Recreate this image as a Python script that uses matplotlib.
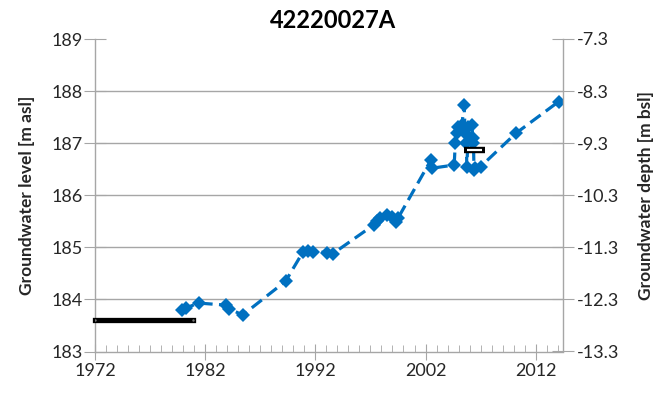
import matplotlib.pyplot as plt
from matplotlib.ticker import FixedLocator, MultipleLocator, FormatStrFormatter

plt.rcParams['font.family'] = ['Lato', 'DejaVu Sans']
plt.rcParams['axes.unicode_minus'] = False

# groundwater level measurements (decimal year, m asl)
years = [1979.9, 1980.3, 1981.4, 1983.9, 1984.2, 1985.4, 1989.3, 1990.9, 1991.3,
         1991.8, 1993.1, 1993.6, 1997.3, 1997.6, 1997.9, 1998.5, 1999.0, 1999.3,
         1999.5, 2002.5, 2002.6, 2004.6, 2004.7, 2004.9, 2004.95, 2005.3, 2005.5,
         2005.6, 2005.7, 2005.75, 2005.9, 2006.2, 2006.3, 2006.35, 2006.4, 2006.5,
         2007.0, 2010.2, 2014.1]
level = [183.80, 183.84, 183.93, 183.89, 183.82, 183.70, 184.35, 184.92, 184.93,
         184.92, 184.90, 184.88, 185.43, 185.50, 185.56, 185.62, 185.58, 185.49,
         185.56, 186.68, 186.52, 186.58, 187.00, 187.19, 187.32, 187.35, 187.73,
         187.19, 187.00, 186.55, 187.32, 187.35, 187.09, 187.00, 186.49, 186.52,
         186.55, 187.19, 187.80]

# reference periods (black bars)
bar1_years = [1972.0, 1980.9]
bar1_level = [183.6, 183.6]
bar2_years = [2005.5, 2007.4]
bar2_level = [186.86, 186.86]

x_ticks = [1972, 1982, 1992, 2002, 2012]
offset = 196.3  # depth = level - offset

fig = plt.figure(figsize=(6.62, 3.99), dpi=100)
ax = fig.add_axes([95 / 662, 1 - 351.5 / 399, (562.7 - 95) / 662, (351.5 - 39) / 399])
ax2 = ax.twinx()

blue = '#0070C0'
grid_c = '#A6A6A6'
txt_c = '#262626'

ax.plot(bar1_years, bar1_level, color='black', lw=3.8, solid_capstyle='projecting',
        clip_on=False, zorder=3)
ax.plot(bar1_years, bar1_level, ls='none', marker='.', ms=1.5, color='#777777', zorder=4)
ax.plot(years, level, color=blue, lw=2.3, ls=(0, (4, 2)), marker='D', ms=7.5,
        markeredgewidth=0, zorder=5)
ax.plot(bar2_years, bar2_level, color='black', lw=4.6, solid_capstyle='butt', zorder=6)
ax.plot([bar2_years[0] + 0.25, bar2_years[1] - 0.25], bar2_level, color='white', lw=1.6,
        solid_capstyle='butt', zorder=7)

ax.set_xlim(1972, 2014.45)
ax.set_ylim(183, 189)
ax2.set_ylim(183 - offset, 189 - offset)

ax.xaxis.set_major_locator(FixedLocator(x_ticks))
ax.xaxis.set_minor_locator(MultipleLocator(1))
ax.xaxis.set_major_formatter(FormatStrFormatter('%d'))
ax.yaxis.set_major_locator(MultipleLocator(1))
ax2.set_yticks([183 - offset + i for i in range(7)])
ax2.yaxis.set_major_formatter(FormatStrFormatter('%.1f'))

for g in [184, 185, 186, 187, 188]:
    ax.axhline(g, color=grid_c, lw=1.0, zorder=1)

for a in (ax, ax2):
    for s in a.spines.values():
        s.set_visible(False)
ax.spines['left'].set_visible(True)
ax.spines['bottom'].set_visible(True)
ax2.spines['right'].set_visible(True)
for s in (ax.spines['left'], ax.spines['bottom'], ax2.spines['right']):
    s.set_color(grid_c)
    s.set_linewidth(1.0)

ax.tick_params(axis='x', which='major', direction='inout', length=12, color=grid_c,
               labelsize=13, labelcolor=txt_c, pad=2)
ax.tick_params(axis='x', which='minor', direction='in', length=5, color=grid_c)
ax.tick_params(axis='y', direction='inout', length=16, color=grid_c, labelsize=13,
               labelcolor=txt_c, pad=1)
ax2.tick_params(axis='y', direction='inout', length=16, color=grid_c, labelsize=13,
                labelcolor=txt_c, pad=2)

ax.set_ylabel('Groundwater level [m asl]', fontsize=12.5, fontweight='bold', color=txt_c,
              labelpad=12)
ax2.set_ylabel('Groundwater depth [m bsl]', fontsize=12.5, fontweight='bold', color=txt_c,
               labelpad=14)
fig.text(333 / 662, 1 - 20 / 399, '42220027A', ha='center', va='center', fontsize=17,
         fontweight='bold', color='black')

fig.savefig('out.png', dpi=100)
